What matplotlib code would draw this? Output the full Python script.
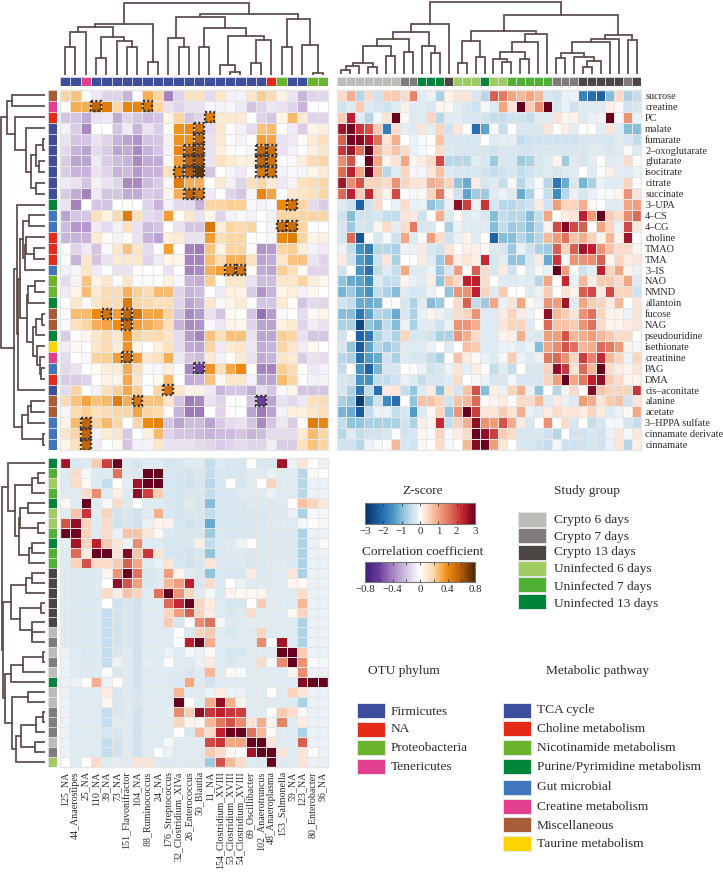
#!/usr/bin/env python

#Imports
import numpy as np
import matplotlib
matplotlib.use("Agg")
import matplotlib.pyplot as plt
from matplotlib.cm import ScalarMappable
from matplotlib.colors import LinearSegmentedColormap, Normalize
from matplotlib.patches import Rectangle

plt.rcParams['font.family'] = ['Liberation Serif', 'DejaVu Serif']

#Labels
otu_labels = ["125_NA", "44_Anaerostipes", "25_NA", "110_NA", "39_NA", "73_NA", "151_Flavonifractor",
              "104_NA", "88_Ruminococcus", "24_NA", "176_Streptococcus", "32_Clostridium_XIVa",
              "26_Enterococcus", "50_Blautia", "11_NA", "154_Clostridium_XVIII", "53_Clostridium_XVIII",
              "54_Clostridium_XVIII", "69_Oscillibacter", "102_Anaerotruncus", "48_Anaeroplasma",
              "153_Salmonella", "59_NA", "123_NA", "80_Enterobacter", "96_NA"]
metabolites = ["sucrose", "creatine", "PC", "malate", "fumarate", "2–oxoglutarate", "glutarate", "isocitrate",
               "citrate", "succinate", "3–UPA", "4–CS", "4–CG", "choline", "TMAO", "TMA", "3–IS", "NAO", "NMND",
               "allantoin", "fucose", "NAG", "pseudouridine", "isethionate", "creatinine", "PAG", "DMA",
               "cis–aconitate", "alanine", "acetate", "3–HPPA sulfate", "cinnamate derivate", "cinnamate"]

#Correlation of OTUs with metabolites
corr = [
    [.2,.25,0,-.08,-.15,-.15,-.25,0,.3,.2,-.4,-.15,.15,.15,-.12,.12,-.05,-.05,.13,.22,.17,.06,-.1,-.25,-.15,-.15],
    [.02,.3,.3,.55,.45,.2,.42,.42,.48,.2,-.1,-.15,-.1,-.1,-.03,-.04,-.03,-.07,-.2,-.15,-.08,-.1,-.15,-.25,0,0],
    [-.2,-.2,-.28,-.1,-.08,-.28,-.15,-.2,-.22,-.2,.05,.2,-.2,-.15,.45,.1,.1,.1,0,-.15,-.2,.05,.28,.1,-.15,-.15],
    [-.05,-.17,-.38,0,0,-.2,-.07,-.25,-.1,-.17,.02,.38,.4,.5,-.12,.12,0,-.05,-.12,.25,.28,0,-.07,-.17,.05,.08],
    [-.1,-.2,-.2,-.1,-.15,-.25,-.3,-.35,-.2,-.2,-.05,.38,.38,.55,-.1,.1,-.02,-.05,.02,.35,.33,-.1,-.07,.03,.1,.15],
    [-.13,-.25,-.3,-.13,-.17,-.3,-.28,-.38,-.25,-.2,-.05,.42,.55,.62,-.1,.08,.02,0,-.03,.55,.5,-.1,-.05,0,.07,.13],
    [-.17,-.3,-.3,-.07,-.17,-.22,-.25,-.38,-.27,-.27,.03,.35,.55,.62,-.1,.15,.1,.07,.08,.55,.5,-.02,-.03,.08,.18,.2],
    [-.17,-.25,-.25,-.1,-.15,-.25,-.22,-.33,-.25,-.25,.15,.47,.58,.75,-.2,0,-.04,-.07,0,.48,.5,-.05,-.03,-.04,.05,.1],
    [-.07,-.1,-.2,-.05,-.1,-.15,-.38,-.38,-.22,-.17,-.03,.45,.3,.3,.02,.1,-.05,-.15,.15,.2,.1,-.08,-.04,.15,.17,.2],
    [-.17,-.27,-.4,-.07,-.2,-.2,-.28,-.27,-.17,-.2,.05,.3,.55,.5,-.07,-.02,-.15,-.2,-.04,.42,.33,0,.1,.13,.15,.2],
    [-.1,-.4,0,-.2,-.2,0,.02,0,-.15,-.25,-.05,-.12,-.12,-.25,.2,.2,.22,.22,-.03,-.05,-.03,.4,.5,.2,-.12,-.17],
    [-.3,-.2,-.2,.15,.07,.18,.45,.15,-.12,-.15,.35,.02,.12,-.1,.05,-.15,-.05,-.03,-.05,0,-.05,.2,.2,.2,.2,.2],
    [-.22,-.33,-.33,-.07,-.12,-.05,.15,-.1,-.22,-.2,0,-.1,-.2,-.2,.47,.08,.2,.18,.2,0,-.05,.52,.52,.2,0,0],
    [-.25,-.25,-.25,.1,.03,-.05,.03,-.1,-.25,-.3,.08,.1,-.1,-.1,.35,.15,.2,.2,0,0,-.03,.4,.45,.2,.05,.07],
    [0,-.15,-.07,-.2,-.03,.12,.25,.13,-.12,0,.35,0,-.4,-.42,.25,.05,.2,.2,0,-.35,-.33,.2,.22,.08,-.05,-.07],
    [-.02,-.25,.12,-.2,-.1,.1,.12,.12,-.15,-.07,.05,.05,-.4,-.4,.27,.17,.3,.3,.15,-.3,-.27,.12,.25,.25,-.1,-.15],
    [-.05,-.04,.13,-.07,0,-.1,-.1,0,0,0,-.1,0,-.4,-.38,.3,.35,.5,.5,.02,-.27,-.3,.22,.15,.03,-.15,-.15],
    [-.12,-.04,.25,.05,.12,.02,.13,0,-.02,0,.07,-.03,-.25,-.27,.22,0,.12,.12,-.1,-.22,-.22,.12,.12,.2,.08,.04],
    [-.07,.05,.27,.1,.17,.17,.3,.22,.17,.28,.27,-.15,-.25,-.22,0,-.07,.07,.05,-.17,-.35,-.25,.05,.08,-.05,.03,0],
    [0,.12,-.02,.12,.18,.18,.47,.2,.18,.15,.15,-.15,-.3,-.25,.12,-.03,.05,.1,-.02,-.2,-.2,.1,.02,-.2,-.12,-.15],
    [-.02,.27,.27,.4,.5,.35,.55,.48,.32,.33,.2,-.2,-.38,-.33,-.1,-.2,.03,.02,-.2,-.45,-.32,-.02,0,-.12,.03,.05],
    [-.02,.15,.2,.3,.33,.4,.55,.35,.3,.27,.15,-.25,-.37,-.35,-.03,-.08,.05,.04,-.15,-.3,-.3,.07,.1,-.15,-.06,-.1],
    [-.17,0,.04,.12,.17,.12,.38,.2,.17,.18,.12,-.12,-.32,-.4,.25,.15,.25,.25,-.1,-.3,-.3,.22,.2,-.1,-.2,-.2],
    [-.06,.03,0,.12,.18,.1,.38,.05,0,.08,.15,-.12,-.28,-.3,.2,-.07,.1,.13,-.08,-.27,-.25,.2,.12,-.06,.03,0],
    [-.12,0,-.03,.2,.22,.35,.55,.35,.12,.15,.3,-.08,-.2,-.22,.1,-.05,.02,.1,-.1,-.28,-.25,.13,.1,-.17,-.1,-.12],
    [-.13,-.1,-.01,.02,.08,.1,.3,.15,-.03,-.03,.08,-.02,-.38,-.58,.37,.15,.32,.4,0,-.4,-.4,.22,.17,0,-.08,-.05],
    [-.17,-.17,-.15,-.01,.06,.06,.32,.12,0,.03,.28,0,-.28,-.25,.25,.03,.12,.12,-.05,-.3,-.3,.27,.2,-.01,-.05,-.04],
    [-.12,.2,0,-.05,.15,.22,.32,.22,-.01,.2,.5,.12,.06,.06,-.07,-.25,-.2,-.2,-.27,-.12,-.2,-.03,.05,-.2,-.2,-.2],
    [.18,.25,.33,.25,.28,.45,.3,.5,.25,.25,.12,-.2,-.42,-.38,-.1,-.15,0,0,-.2,-.6,-.3,-.1,-.13,-.08,.15,.17],
    [-.04,.18,.22,.15,.17,.2,.2,.33,.2,.18,.02,-.25,-.42,-.42,0,-.15,0,0,-.3,-.42,-.3,-.05,.08,.07,.12,.15],
    [.05,.28,.55,.2,.28,.2,0,.2,.4,.43,-.2,-.3,-.22,-.22,-.3,-.18,-.12,-.1,-.2,-.38,-.2,-.08,-.17,0,.45,.42],
    [.12,.2,.55,-.05,.1,.12,-.18,-.01,.07,.28,-.15,-.2,-.2,-.22,-.25,-.22,-.22,-.2,-.25,-.22,-.12,-.12,-.12,.1,.27,.2],
    [.05,.15,.55,-.07,0,.04,-.2,-.05,-.05,.12,-.1,-.1,-.1,-.12,-.15,-.17,-.15,-.12,-.15,-.15,-.06,-.17,-.17,.15,.25,.2],
]

#Significant cells, row -> columns
sig_cells = {1: [3, 8], 2: [14], 3: [13], 4: [13], 5: [12, 13, 19, 20], 6: [12, 13, 19, 20],
             7: [11, 12, 13, 19, 20], 9: [12, 13], 10: [22], 12: [21, 22], 16: [16, 17], 20: [4, 6],
             21: [6], 24: [6], 25: [13], 27: [10], 28: [7, 19], 30: [2], 31: [2], 32: [2]}

#Z-score of metabolites per sample
z_metab = [
    [.4,.9,-.6,.4,-.4,.6,.6,.4,1.4,-.2,-.1,-.7,.1,.3,.3,-.3,-.6,1.8,1.5,1,.8,1,.8,-.3,-.4,-.1,-.1,-1.7,-2,-2.2,-1,.4,-.7,-.5],
    [-.4,-.2,.6,-.2,-.3,-.4,-.2,.15,-.2,-.2,-.3,.1,.05,-.15,-.3,-.4,-.05,-.2,1,.3,3,.6,1.3,3,-.3,-.1,-.4,-.2,-.2,-.2,.15,.05,-.4,-.3],
    [.6,2.4,-.2,-.6,-.05,.3,3,.05,-.2,-.2,.5,-.6,-.2,-.15,-.3,-.3,-.4,-.5,-.5,-.4,-.4,-.5,-.2,-.2,.3,.05,.1,-.2,-.1,-.1,3,-.05,1.2,-.1],
    [2.6,2.9,2.2,1.9,.6,-1.8,.4,-.15,-.2,.3,-.15,.5,-.4,.3,0,-2,-1.3,-.05,-.5,0,-.3,-.3,-.3,.3,0,.15,-.15,0,0,-.15,.3,-.2,-1,-1],
    [1.8,2.9,2.8,2.5,1.6,.3,.9,-.02,-.1,-.03,0,.7,-.3,-.3,-.3,-.3,0,-.2,-.15,-.15,-.5,-.4,-.4,-.4,-.4,-.4,-.4,-.3,-.3,-.3,-.3,-.2,-.3,-.5],
    [2.2,2.6,1.6,3,.8,.4,.7,.4,-.1,-.05,0,.4,-.25,-.3,-.3,-.3,-.3,-.4,-.3,-.3,-.35,-.35,-.3,-.3,-.3,-.3,-.3,-.3,-.2,-.2,-.3,-.2,.05,-.2],
    [1.3,1.9,0,3,1,.1,.3,1,.05,.2,.4,2,-.6,-.6,-.6,-.15,-.3,-.8,-.3,-.3,-.8,-.7,-.3,-.2,.1,-.8,-.2,-.3,-.15,0,-.2,-.15,.4,0],
    [1.7,2.4,1,3,.8,-.6,-.2,.5,-.05,-.05,.25,.7,-.2,-.3,-.3,-.3,-.4,-.5,-.4,-.3,-.5,-.4,-.3,-.2,-.3,-.2,-.2,0,-.2,-.03,.15,-.15,-.2,-.1],
    [2.6,1.3,1.9,.5,.5,.4,1.2,.5,.3,.3,.9,.8,.5,-.9,-1.2,.2,-.3,-.2,-.5,-.05,-.6,-.2,-.03,-.6,-1.9,-1.2,-.3,-1.1,-.7,-.1,-.2,-.2,.5,0],
    [1.7,2.4,.6,2.3,.4,.1,2,0,-.05,.05,.5,1.5,.1,-.4,-1.3,-.8,-.8,-.2,-.1,-.2,-1.2,-.7,-.03,-.5,-1.6,-.6,-.1,-.3,-.1,-.03,-.03,.1,1.2,.3],
    [-.2,-.4,-2.2,-.4,.4,0,-.1,.4,-.1,-.1,-.9,-.7,-.1,2.7,2.1,-.1,2.2,-.3,-.6,-.6,-.5,-.4,.2,-.4,1.1,.5,.5,.9,.05,0,-.2,-.2,1,1.1],
    [-.4,-1,-.4,-.4,-.3,-.5,-.5,.3,.2,-.4,0,.9,-.2,.05,-.2,-.15,-.3,-1,-.5,-.6,-.6,-1,-.5,1,0,.2,.3,2.4,1.1,3,.6,.4,1.3,1.7],
    [-.3,-.8,-.3,-.4,.1,.4,-.15,.4,1.5,-.3,-.3,-.02,-.7,-.1,-.2,-.2,-.2,-1,-.5,-.8,-.7,-1,-.6,.1,2,2.8,2,1.8,0,1,.5,-.1,2,.3],
    [-.3,1.7,-2.4,0,-.3,-.05,-.4,1,-.2,.05,1.1,.4,-.4,-.1,.1,-.2,.02,-2.2,-1,-1,-.6,-.9,-.6,.8,1.1,1.6,.7,.9,.5,.1,.8,.1,2.6,0],
    [-.1,-.5,-1.5,-1.8,-.6,-.6,-.7,-.1,-.1,.2,-.3,-.4,.3,0,.15,.15,.05,-.2,-.3,-.8,-.1,-.4,-.7,-.8,1.8,.5,1.8,2.6,2.4,1.2,.7,.4,.4,.1],
    [.2,-.4,-1.4,-1.7,-.4,.3,-.7,.02,0,.2,-.2,-.8,1.1,.15,.3,.15,2.3,-.3,-.15,-.9,-.9,-.3,.2,-1.2,2.2,-.05,1.2,1.2,1.3,1.8,.1,.5,.2,.3],
    [-.4,0,-1.5,-2,-.5,-.2,-.5,1,-.2,-.2,-.1,-.8,-.3,1.1,0,1.8,.4,-.3,.2,-.4,0,-.2,-.05,-.1,3,1.1,0,-.4,-.15,2.4,.5,1,.1,-.1],
    [-.9,-1.2,-1.3,-1.6,-.2,-.5,-.5,.1,-.1,-.2,.15,-.9,.7,.4,2.4,2.4,.4,0,-.2,-.2,-.15,-.2,-.6,1,0,2.3,-.1,.8,.2,.6,.6,.4,1,-.2],
    [-1.1,-.8,-1.3,-1.5,-.5,-.7,-1,-.2,-.3,-.3,-.1,0,-.9,1.2,1.2,2.4,.5,-.2,.6,0,0,-.2,-.1,.6,0,.3,.1,1.8,2,.2,2,.5,.5,-.4],
    [-.4,-.5,-1.2,-1.2,-1.1,0,0,-.3,-.7,-.2,-1,-.8,0,.4,1.8,-.5,-.8,1,-.1,.3,1,.05,-.1,1.2,1.1,2.6,-.2,1,.6,.5,.2,.8,0,.3],
    [-1,-1,-1.9,-1.3,-.6,-.7,-1.2,-.3,-.7,-.1,.1,-.1,-.2,.4,.5,1.2,-.2,-.2,.2,.5,.2,-.1,.03,2.7,.8,.6,.3,1.2,1.6,.5,.1,.1,-.1,.3],
    [-.7,-.7,-2.6,-.9,-1.1,-.5,-1,-.1,-.7,-.2,-.2,-.4,-.1,1.2,1.2,.9,-.2,-.2,.3,.5,.5,-.2,0,1.7,.7,.7,.6,1.2,1.6,.4,.1,.1,.2,.3],
    [-.4,0,-2.2,-1.9,-.7,-.4,-.7,.5,-.3,-.3,-.4,-.7,-.7,1.2,.9,.4,-.2,-.2,.1,.15,.9,-.2,-.3,1.1,1.1,1.9,.8,.9,1.1,.8,.6,.4,.4,0],
    [-.3,-.9,-2.3,-1.3,-.6,-.8,-.6,-.2,-.2,-.2,-.1,0,-.2,0,.7,.6,-.2,-.2,-.1,-.1,-.2,-.1,-1,1,1.3,1.9,1.6,.8,.9,1.7,1.5,1.1,.1,-.05],
    [-.6,-.7,-2,-1.4,-1.2,-.4,-.7,-.2,-.3,-.3,-.5,-.7,.02,.7,.2,.05,-.1,-.2,-.05,.6,-.1,-.2,-.1,1.5,1.7,1.2,.5,2.1,1.4,2.3,.8,.5,-.1,.5],
    [-.5,0,-1.5,-2.2,-1.1,-.3,-.3,0,0,-.1,-.4,-.3,-.1,.3,-.15,.2,.03,-.5,-.2,-.5,0,-.3,-.3,.5,2.7,2.2,.3,1.7,.8,3,.4,.2,.1,.3],
    [-.3,-.4,-1.5,-1.5,-.5,-.5,-.4,-.1,-.2,-.5,-.3,-.3,-.2,.4,0,-.05,-.1,-.3,-.3,-.05,-.3,-.3,-.3,.5,1.1,3,1,1.5,2.4,2.7,.6,.4,.1,.1],
    [-.3,-.7,-1.9,-.5,-2,.2,.3,-.5,-.9,-.2,.2,-1,.3,-.3,.7,1.9,-1,.15,-.1,.5,.9,-.1,-.9,0,-.6,.1,.4,0,2.8,.7,.5,.5,.5,2.2],
    [-.7,-.9,-2.8,-1.1,-.4,-1.6,-2,0,-.9,.7,.7,.5,-.4,.7,.8,1.7,.03,.1,.2,0,.4,.4,.8,-.2,.2,-.1,-.2,1.1,.9,.3,.6,.7,-.4,.3],
    [-1.1,-1.2,-2.3,-.5,-.1,-.1,-.5,-.3,-1.4,-.2,.05,.5,-.9,1.2,3,2.1,.3,.3,.6,.3,.9,-.1,-.2,.2,.4,.2,.3,.2,.5,.2,-.2,-.1,.05,1],
    [-.5,-.9,-.9,-.7,-.7,-.7,-.7,-.4,-.7,.15,.1,2.3,-.5,.5,.9,2.7,1.2,1.1,1.9,.9,.2,-.3,0,1.2,0,.4,-.3,0,-.5,-.3,-.05,-.05,-.3,-.5],
    [-.6,-.2,-.5,-.4,-.4,-.3,0,-.4,-.3,.05,-.03,.5,-.05,.2,.4,3,2.7,2.1,.6,.4,-.3,-.3,-.3,-.4,-.6,0,-.4,-.4,-.3,-.4,-.1,.25,-.05,.25],
    [-.4,-.4,-.6,-.1,-.05,0,.8,-.3,-.4,.05,.02,.4,-.05,0,.8,2.8,3,1.1,.3,.02,-.3,-.3,-.4,-.5,-.05,-.4,-.4,-.4,-.3,-.4,-.1,.3,-.6,.15],
]

#Z-score of OTUs per sample
z_otu = [
    [2.6,-.3,-.2,.6,2.1,3,-.2,-.35,-.2,-.2,-.35,-.3,-.2,-.2,-.5,-.25,-.3,-.3,0,-.3,-.3,2.6,-.1,.3,0,-.1],
    [-.2,.4,-.05,-.2,-.2,1.6,-.2,-.25,3,3,-.3,-.35,-.4,-.3,-.5,-.3,-.3,-.3,-.2,-.2,-.1,-.2,-.2,-.6,.05,0],
    [-.2,.4,.05,-.2,-.5,0,-.15,2.6,3,3,-.3,-.35,-.4,-.3,-.6,-.3,0,-.3,-.2,0,.5,-.2,-.2,-.6,-.1,-.1],
    [-.2,-.2,.4,1.3,-.2,.15,-.2,2.7,2.1,.6,-.3,-.35,-.3,-.3,-.5,-.3,-.3,-.2,-.2,-.2,-.1,-.2,-.2,-.6,-.1,-.1],
    [.05,-.2,3,-.2,-.05,.4,-.2,.02,-.2,-.2,-.3,-.35,-.2,-.3,-1,-.3,-.3,-.3,-.25,-.25,-.25,-.2,0,.7,.5,.25],
    [-.2,.7,2.2,-.15,.5,-.4,-.3,-.4,-.2,.9,-.3,-.35,-.3,-.3,-.5,-.3,-.3,-.3,-.3,-.3,-.2,-.25,-.1,-.7,-.05,-.05],
    [1.9,2.7,.5,-.2,.4,-.4,-.3,-.4,-.1,.1,.1,-.3,-.4,-.3,-1.2,-.3,-.3,-.3,-.3,-.25,-.2,-.2,-.2,-.05,0,-.05],
    [3,2.9,.5,-.2,.4,-.1,.7,.7,.3,.05,-.25,-.3,-.3,-.3,-.8,-.25,-.3,-.3,-.3,-.25,-.2,-.25,-.25,-.7,-.1,-.1],
    [-.15,2.6,.5,2.4,.6,.3,-.1,1.3,-.2,-.2,-.3,-.3,-.3,.15,-.5,-.25,-.2,-.1,0,-.25,-.2,-.25,-.25,-.7,-.1,.05],
    [-.2,1.7,.2,3,3,.3,2.8,.7,2.2,.3,-.3,-.35,-.4,-.3,-.9,-.25,-.2,-.2,-.3,-.25,-.2,-.25,-.25,-.7,-.1,-.1],
    [-.2,.5,1.9,.4,.4,.6,1.8,1,-.2,-.1,.3,-.3,-.4,-.3,.3,-.25,-.25,-.2,-.3,-.25,-.2,-.2,-.25,-.7,-.1,-.1],
    [-.2,-.25,-.25,-.2,.1,1.2,3,1.6,-.3,-.2,1.1,.1,-.2,-.3,-.9,-.25,-.3,-.3,.2,-.25,-.2,-.2,.3,-.7,-.1,-.1],
    [-.2,-.25,-.25,-.2,0,2.7,1.9,1.1,-.3,-.2,.8,1.1,2.4,-.3,.4,-.25,0,-.1,-.2,-.2,-.2,-.2,.1,.05,-.1,-.1],
    [-.2,-.25,-.25,-.2,.4,.2,.7,.5,-.2,1.6,3,1.2,.5,-.2,-.05,-.25,.1,.05,.05,.1,-.2,-.2,-.2,.4,-.1,-.1],
    [-.2,-.25,-.25,-.2,0,-.4,-.3,-.4,-.2,-.2,1.7,2.3,3,.5,.2,-.2,-.3,-.3,0,.6,-.2,-.2,-.2,.8,-.1,-.1],
    [-.2,-.25,-.25,-.2,-.5,-.4,-.3,-.4,-.2,-.2,.5,1.1,1.8,.5,.2,-.2,-.3,-.2,.4,-.2,-.2,-.2,.05,.5,-.1,-.1],
    [-.2,-.25,-.25,-.2,-.5,-.4,-.3,-.4,-.2,-.2,.6,-.3,0,1.3,1.6,-.05,-.2,-.2,-.15,-.2,-.2,-.2,-.2,-.7,-.1,-.1],
    [-.2,-.25,-.25,-.2,-.5,-.4,-.3,-.4,-.2,-.2,-.2,.02,-.3,.5,.6,-.2,-.3,-.2,-.2,.5,-.2,-.2,-.2,-.7,-.1,-.1],
    [-.2,-.25,-.25,-.2,-.5,-.4,-.3,-.4,-.2,-.2,-.2,0,2.4,3,.9,-.2,-.2,-.2,-.2,1.3,.02,2.6,-.2,-.7,-.1,-.1],
    [-.1,-.2,-.25,-.2,-.5,-.3,-.2,-.4,-.2,-.2,-.1,-.2,-.05,-.1,.05,-.2,-.3,-.3,-.2,-.2,-.2,3,3,.6,-.1,-.1],
    [-.1,-.2,-.25,-.2,-.5,-.1,-.2,-.4,-.15,-.2,.02,-.2,-.2,-.1,.2,-.2,-.3,-.2,-.2,.4,-.05,1.3,3,1.2,.02,-.05],
    [-.1,-.2,-.2,-.2,-.03,-.3,-.2,-.4,-.2,-.2,-.2,-.2,-.3,-.2,.8,-.2,.05,-.03,-.2,-.2,-.2,-.2,.1,1.3,-.1,-.1],
    [-.1,-.1,.02,.9,-.1,.02,-.2,-.4,-.2,-.2,-.2,-.25,1,-.2,-.4,-.2,-.2,-.2,-.2,-.2,-.2,-.2,-.2,2.8,3,3],
    [-.1,-.2,-.2,-.2,.2,-.3,-.2,-.3,-.2,-.2,-.2,.8,-.2,-.2,-.1,.2,-.1,-.1,-.2,-.2,0,-.2,.5,.3,-.1,-.1],
    [-.1,-.2,-.2,-.2,.1,-.3,-.2,-.3,-.2,-.2,-.2,3,0,-.2,.9,2.7,.9,.1,-.2,-.2,-.2,-.2,-.2,-.7,-.1,-.1],
    [-.1,-.2,-.2,-.2,-.5,-.3,-.2,-.4,-.2,-.2,-.15,1.3,.6,2.7,2.2,2.4,2.2,2.1,-.2,-.2,0,.6,.4,-.05,-.1,-.1],
    [-.1,-.2,-.2,-.2,-.5,-.2,-.2,-.4,-.2,-.2,-.2,.5,.1,.1,.8,1.5,1.9,1.3,.3,.9,.1,1.4,-.2,.2,-.1,-.1],
    [-.1,-.2,-.2,-.2,-.3,-.3,-.2,-.4,-.2,-.2,-.2,.02,-.3,.8,.4,2.4,3,3,1.6,.8,.05,-.2,-.2,-.7,-.1,-.1],
    [-.1,-.2,-.2,-.2,-.5,-.4,-.2,-.4,-.2,-.2,-.05,-.2,-.2,-.2,2,2.2,1,1,3,3,.3,-.2,-.2,1.8,-.1,-.1],
    [-.1,-.2,-.2,-.2,-.5,-.4,-.2,-.4,-.2,0,-.1,-.2,-.2,-.2,.6,.4,.05,.02,2.6,3,3,.3,-.2,.3,.02,-.1],
    [.02,-.2,.02,.4,-.2,-.15,-.2,.3,.3,-.2,-.2,-.2,-.2,-.2,-.8,1.9,.8,.4,-.2,-.2,3,-.2,-.2,.3,-.1,-.1],
]

#Annotation colours
NAVY, RED, GREEN, DKGREEN, BLUE, PINK, BROWN, YELLOW = ("#3f4e9c", "#e52a18", "#6ab42e", "#00853a",
                                                        "#4178bd", "#e2408f", "#a85c37", "#ffd400")
CR6, CR7, CR13, UN6, UN7, UN13 = "#bdbcb9", "#807c7b", "#4b4644", "#a0cb62", "#4fb035", "#00843a"

otu_colors = [NAVY]*2 + [PINK] + [NAVY]*17 + [RED, GREEN] + [NAVY]*2 + [GREEN]*2
sample_colors = [CR6]*7 + [CR7]*2 + [UN13]*3 + [CR13] + [UN6]*3 + [UN13] + [UN6]*2 + [UN7]*5 \
    + [CR7]*3 + [CR13]*5 + [CR7, CR13]
metab_colors = [BROWN, PINK, RED] + [NAVY]*7 + [DKGREEN] + [BLUE]*2 + [RED]*3 + [BLUE] + [GREEN]*2 + [DKGREEN] \
    + [BROWN]*2 + [DKGREEN, YELLOW, PINK, BLUE, RED, NAVY] + [BROWN]*2 + [BLUE]*3
sample_row_colors = [UN13, UN7, UN6, UN7, UN13, UN6, UN6, UN7, UN13, UN7, UN7] + [CR13]*6 \
    + [CR6, CR7, CR6, CR7, CR6, UN13, CR6, CR6, CR7, CR7, CR7, CR6, CR7, UN6]

#Dendrograms, nested as (merge height, left, right), leaves are row or column numbers
otu_tree = (72,
    (51, (48, (43, (28, 0, 1), 2), (38, (17, 3, 4), (34, 5, (28, 6, 7)))), (13, 8, 9)),
    (61, (58, (37, 10, (28, 11, 12)),
              (47, (28, 13, 14), (39, (10, 15, (3, 16, 17)), (35, (12, 18, 19), 20)))),
         (56, (28, 21, 22), (30, 23, (2, 24, 25)))))
sample_tree = (72,
    (50, (42, (35, (28, (11, (8, (4, 0, 1), 2), (7, 3, 4)), (18, 5, 6)), (22, 7, 8)), (28, 9, (21, 10, 11))), 12),
    (59, (43, (33, (11, 13, 14), (17, 15, 16)),
              (40, (32, (22, (15, 17, (12, 18, 19)), (15, 20, 21)), 22), 23)),
         (39, (35, (32, (21, (16, 24, 25), (17, 26, (13, (7, 27, 28), 29))), 30), 31), (34, 32, 33))))
metab_tree = (44,
    (38, (33, 0, 1), (30, 2, (19, 3, (14, (9, (2.5, 4, 5), (6, 6, 7)), (9, 8, 9))))),
    (31, (28, 10, (27, (25.5, (22, (16, 11, 12), (20, (19.5, 13, (11, 14, 15)), 16)),
                              (17.7, (16.7, (10, 17, 18), 19),
                                     (11.7, (9, (3.5, 20, 21), 22), (8.5, 23, (5, 24, (4, 25, 26)))))), 27)),
         (23, (17, (14, 28, 29), 30), (2.5, 31, 32))))
sample_row_tree = (43.5,
    (37, 0, (30, (13, (7, 1, 2), 3),
                 (26, (25, (17, 4, 5), (7, 6, 7)), (16, (13, 8, 9), 10)))),
    (42, (34, (19, (13, 11, 12), 13), (25, (4, 14, 15), (13, 16, (13, 17, 18)))),
         (40, (34, (22, (2, 19, 20), 21), 22),
              (33, (17, 23, 24), (29, (24, (9, (2, 25, 26), 27), (10, 28, 29)), 30)))))

#Shared settings
W, H = 723, 873
TEXT = "#2f2b2b"
LINK = "#5b4a4a"
GRID = "#e6e6e6"
z_nodes = [(-3, "#053061"), (-2.2, "#1f62a8"), (-1.5, "#4393c3"), (-.9, "#92c5de"), (-.4, "#cfe3ef"),
           (-.15, "#e2edf4"), (0, "#ffffff"), (.15, "#fdeee6"), (.5, "#fbd5bf"), (1, "#f4a582"),
           (1.7, "#dc6b57"), (2.4, "#c01f2e"), (3, "#67001f")]
r_nodes = [(-.8, "#3f1a7a"), (-.6, "#6a3d9a"), (-.4, "#a582bf"), (-.2, "#d3c4e3"), (0, "#ffffff"),
           (.2, "#fcd7a8"), (.4, "#f08a0c"), (.6, "#b35a0a"), (.8, "#4a2808")]
z_cmap = LinearSegmentedColormap.from_list("zscore", [((v + 3)/6, c) for v, c in z_nodes])
r_cmap = LinearSegmentedColormap.from_list("corr", [((v + .8)/1.6, c) for v, c in r_nodes])
z_norm = Normalize(-3, 3)
r_norm = Normalize(-0.8, 0.8)


def ax_px(x0, y0, x1, y1):
    return fig.add_axes([x0/W, 1 - y1/H, (x1 - x0)/W, (y1 - y0)/H])


def draw_tree(ax, node, horizontal):
    # returns leaf centre and height of the node
    if not isinstance(node, tuple):
        return node + 0.5, 0
    h, a, b = node
    pa, ha = draw_tree(ax, a, horizontal)
    pb, hb = draw_tree(ax, b, horizontal)
    pos = [pa, pa, pb, pb]
    hts = [ha, h, h, hb]
    if horizontal:
        ax.plot(hts, pos, color=LINK, lw=1.25, solid_joinstyle="miter")
    else:
        ax.plot(pos, hts, color=LINK, lw=1.25, solid_joinstyle="miter")
    return (pa + pb)/2, h


def col_dendro(tree, n, box):
    ax = ax_px(*box)
    draw_tree(ax, tree, False)
    ax.set_xlim(0, n)
    ax.set_ylim(0, box[3] - box[1])
    ax.axis("off")


def row_dendro(tree, n, box):
    ax = ax_px(*box)
    draw_tree(ax, tree, True)
    ax.set_xlim(box[2] - box[0], 0)
    ax.set_ylim(n, 0)
    ax.axis("off")


def color_strip(colors, box, vertical=False):
    ax = ax_px(*box)
    n = len(colors)
    for i, c in enumerate(colors):
        if vertical:
            ax.add_patch(Rectangle((0, i), 1, 1, fc=c, ec=GRID, lw=0.5))
        else:
            ax.add_patch(Rectangle((i, 0), 1, 1, fc=c, ec=GRID, lw=0.5))
    ax.set_xlim(0, 1 if vertical else n)
    ax.set_ylim(n if vertical else 1, 0)
    ax.axis("off")


def heatmap(data, cmap, norm, box):
    ax = ax_px(*box)
    arr = np.array(data, dtype=float)
    ax.pcolormesh(arr, cmap=cmap, norm=norm, edgecolors=GRID, linewidth=0.5)
    ax.set_ylim(arr.shape[0], 0)
    ax.set_xticks([])
    ax.set_yticks([])
    for s in ax.spines.values():
        s.set_color(GRID)
        s.set_linewidth(1)
    return ax


#Figure
fig = plt.figure(figsize=(W/100, H/100), dpi=100)

# metabolites vs OTU
ax_corr = heatmap(corr, r_cmap, r_norm, (60, 90, 328, 450))
for row, cols in sig_cells.items():
    for c in cols:
        ax_corr.add_patch(Rectangle((c + .04, row + .04), .92, .92, fill=False, ec="#3a3436", lw=1.7,
                                    ls=(0, (0.9, 0.9)), zorder=5))
col_dendro(otu_tree, 26, (60, 2, 328, 75))
color_strip(otu_colors, (60, 77, 328, 86))
color_strip(metab_colors, (48, 90, 56.5, 450), vertical=True)
row_dendro(metab_tree, 33, (0, 90, 45, 450))

# metabolites vs samples
ax_z = heatmap(z_metab, z_cmap, z_norm, (337, 90, 641, 450))
ax_z.yaxis.tick_right()
ax_z.set_yticks(np.arange(33) + .5)
ax_z.set_yticklabels(metabolites, fontsize=7.4, color=TEXT)
ax_z.tick_params(axis="y", length=0, pad=3)
col_dendro(sample_tree, 34, (337, 0, 641, 74))
color_strip(sample_colors, (337, 77, 641, 86))

# OTU vs samples
ax_otu = heatmap(z_otu, z_cmap, z_norm, (60, 458, 328, 767))
ax_otu.set_xticks(np.arange(26) + .5)
ax_otu.set_xticklabels(otu_labels, rotation=90, fontsize=7.2, color=TEXT)
ax_otu.tick_params(axis="x", length=0, pad=3)
color_strip(sample_row_colors, (48, 458, 56.5, 767), vertical=True)
row_dendro(sample_row_tree, 31, (0, 458, 45, 767))

# colour bars
for box, cmap, norm, ticks, labels in [
        ((365, 503, 475, 524), z_cmap, z_norm, [-3, -2, -1, 0, 1, 2, 3], ["−3", "−2", "−1", "0", "1", "2", "3"]),
        ((365, 562, 475, 582), r_cmap, r_norm, [-.8, -.6, -.4, -.2, 0, .2, .4, .6, .8],
         ["−0.8", "", "−0.4", "", "0", "", "0.4", "", "0.8"])]:
    cax = ax_px(*box)
    cb = fig.colorbar(ScalarMappable(norm=norm, cmap=cmap), cax=cax, orientation="horizontal")
    cb.set_ticks(ticks)
    cb.set_ticklabels(labels)
    cax.tick_params(axis="x", direction="in", length=2.5, width=0.6, color="#333333", labelsize=7.8,
                    labelcolor=TEXT, pad=2.5, top=True)
    cb.outline.set_edgecolor("#777777")
    cb.outline.set_linewidth(0.8)

# legends, drawn in a full figure axes in pixels
lg = fig.add_axes([0, 0, 1, 1], zorder=-1)
lg.set_xlim(0, W)
lg.set_ylim(H, 0)
lg.axis("off")


def legend_block(title, title_x, title_y, names, colors, x, tops, text_ys):
    lg.text(title_x, title_y, title, ha="center", va="center", fontsize=9.6, color=TEXT)
    for name, c, top, ty in zip(names, colors, tops, text_ys):
        lg.add_patch(Rectangle((x, top), 28, 14.5, fc=c, ec=GRID, lw=0.7))
        lg.text(x + 36 if x == 518 else x + 34, ty, name, ha="left", va="center", fontsize=9.6, color=TEXT)


lg.text(423, 491, "Z-score", ha="center", va="center", fontsize=9.6, color=TEXT)
lg.text(423, 552, "Correlation coefficient", ha="center", va="center", fontsize=9.6, color=TEXT)
legend_block("Study group", 587, 491,
             ["Crypto 6 days", "Crypto 7 days", "Crypto 13 days", "Uninfected 6 days", "Uninfected 7 days",
              "Uninfected 13 days"],
             [CR6, CR7, CR13, UN6, UN7, UN13],
             518, [512, 528, 545, 561, 577, 594], [520, 537, 552, 569, 587, 604])
legend_block("OTU phylum", 404, 671, ["Firmicutes", "NA", "Proteobacteria", "Tenericutes"],
             [NAVY, RED, GREEN, PINK], 357, [703, 722, 740, 759], [712, 729, 748, 767])
legend_block("Metabolic pathway", 598, 671,
             ["TCA cycle", "Choline metabolism", "Nicotinamide metabolism", "Purine/Pyrimidine metabolism",
              "Gut microbial", "Creatine metabolism", "Miscellaneous", "Taurine metabolism"],
             [NAVY, RED, GREEN, DKGREEN, BLUE, PINK, BROWN, YELLOW],
             503, [703, 721, 740, 759, 780, 799, 817, 836], [710, 729, 748, 767, 787, 807, 826, 844])

fig.savefig("out.png", dpi=100)
